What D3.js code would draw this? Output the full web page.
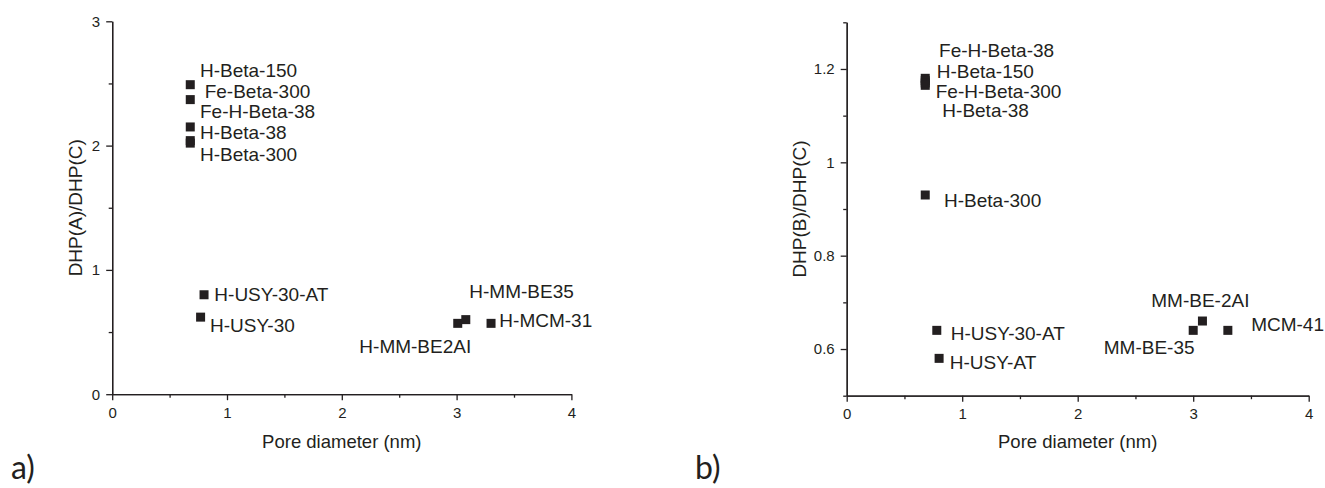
<!DOCTYPE html>
<html>
<head>
<meta charset="utf-8">
<script src="https://cdn.jsdelivr.net/npm/d3@7/dist/d3.min.js"></script>
<style>
  body { margin: 0; background: #fff; }
  text { fill: #231f20; font-family: "Liberation Sans", Arial, sans-serif; }
  .axis path, .axis line { stroke: #231f20; stroke-width: 1.3; }
  .axis text { font-size: 15px; fill: #231f20; font-family: "Liberation Sans", Arial, sans-serif; }
</style>
</head>
<body>
<div id="chart"></div>
<script>
// Panel a) : DHP(A)/DHP(C) against pore diameter
const labelsA = ['H-Beta-150', 'Fe-Beta-300', 'Fe-H-Beta-38', 'H-Beta-38', 'H-Beta-300',
  'H-USY-30-AT', 'H-USY-30', 'H-MM-BE2AI', 'H-MM-BE35', 'H-MCM-31'];
const poreA = [0.68, 0.68, 0.68, 0.68, 0.68, 0.80, 0.77, 3.01, 3.08, 3.30];
const ratioA = [2.49, 2.37, 2.15, 2.04, 2.02, 0.80, 0.62, 0.57, 0.60, 0.57];

// Panel b) : DHP(B)/DHP(C) against pore diameter
const labelsB = ['Fe-H-Beta-38', 'H-Beta-150', 'Fe-H-Beta-300', 'H-Beta-38', 'H-Beta-300',
  'H-USY-30-AT', 'H-USY-AT', 'MM-BE-35', 'MM-BE-2AI', 'MCM-41'];
const poreB = [0.68, 0.68, 0.68, 0.68, 0.68, 0.78, 0.80, 3.00, 3.08, 3.30];
const ratioB = [1.18, 1.175, 1.17, 1.165, 0.93, 0.64, 0.58, 0.64, 0.66, 0.64];

// Tick values
const xMajor = [0, 1, 2, 3, 4], xMinor = [0.5, 1.5, 2.5, 3.5];
const yMajorA = [0, 1, 2, 3], yMinorA = [0.5, 1.5, 2.5];
const yMajorB = [0.6, 0.8, 1.0, 1.2], yMinorB = [0.5, 0.7, 0.9, 1.1, 1.3];

// Label offsets from their square (px), placement only
const offA = [[9.7, -7.7], [14.4, -1.9], [9.7, -8.9], [9.7, -1.2], [9.7, 17.7],
  [10.3, 6.2], [9.4, 15.2], [-98.4, 30], [3.5, -21.3], [8.3, 3.4]];
const offB = [[13.8, -21.6], [11.5, -2.4], [10.5, 15.3], [17.1, 32], [18.8, 11.7],
  [14, 9.6], [10.6, 11], [-89.4, 23.6], [-51.2, -14.4], [23.3, 0.3]];

let
w = 1325, h = 488,
ink = '#231f20',
sq = 9, // square marker size
svg = d3.select('#chart').append('svg').attr('width', w).attr('height', h);

function drawPanel(opt) {
  let
  x = d3.scaleLinear().domain([0, 4]).range(opt.xr),
  y = d3.scaleLinear().domain(opt.yd).range(opt.yr),
  g = svg.append('g');

  // minor ticks first, no labels
  g.append('g').attr('class', 'axis').
  attr('transform', 'translate(0,' + opt.yr[0] + ')').
  call(d3.axisBottom(x).tickValues(xMinor).tickSize(3.5).tickSizeOuter(0).tickFormat(''));
  g.append('g').attr('class', 'axis').
  attr('transform', 'translate(' + opt.xr[0] + ',0)').
  call(d3.axisLeft(y).tickValues(opt.yMinor).tickSize(3.5).tickSizeOuter(0).tickFormat(''));

  // major ticks with labels
  g.append('g').attr('class', 'axis').
  attr('transform', 'translate(0,' + opt.yr[0] + ')').
  call(d3.axisBottom(x).tickValues(xMajor).tickSize(6).tickPadding(7).tickSizeOuter(0).tickFormat(d3.format('d')));
  g.append('g').attr('class', 'axis').
  attr('transform', 'translate(' + opt.xr[0] + ',0)').
  call(d3.axisLeft(y).tickValues(opt.yMajor).tickSize(6).tickPadding(6).tickSizeOuter(0).
  tickFormat(d => String(+d.toFixed(1))));

  // axis titles
  g.append('text').
  attr('x', (opt.xr[0] + opt.xr[1]) / 2).
  attr('y', 448).
  attr('text-anchor', 'middle').
  style('font-size', '18.5px').
  text('Pore diameter (nm)');

  g.append('text').
  attr('transform', 'translate(' + opt.titleX + ',' + (opt.yr[0] + opt.yr[1]) / 2 + ') rotate(-90)').
  attr('text-anchor', 'middle').
  style('font-size', '19px').
  text(opt.yTitle);

  // square markers
  g.selectAll('rect.pt').
  data(opt.labels).
  enter().
  append('rect').
  attr('class', 'pt').
  attr('x', (d, i) => x(opt.pore[i]) - sq / 2).
  attr('y', (d, i) => y(opt.ratio[i]) - sq / 2).
  attr('width', sq).
  attr('height', sq).
  attr('fill', ink);

  // sample names
  g.selectAll('text.lbl').
  data(opt.labels).
  enter().
  append('text').
  attr('class', 'lbl').
  attr('x', (d, i) => x(opt.pore[i]) + opt.off[i][0]).
  attr('y', (d, i) => y(opt.ratio[i]) + opt.off[i][1]).
  style('font-size', '19px').
  text(d => d);

  // panel letter
  svg.append('text').
  attr('x', opt.letterX).
  attr('y', 479).
  style('font-family', 'Lato, "Open Sans", sans-serif').
  style('font-size', '32px').
  text(opt.letter);
}

drawPanel({
  xr: [112.2, 571.4], yr: [394.2, 21.3], yd: [0, 3],
  yMajor: yMajorA, yMinor: yMinorA,
  labels: labelsA, pore: poreA, ratio: ratioA, off: offA,
  yTitle: 'DHP(A)/DHP(C)', titleX: 82, letter: 'a)', letterX: 11
});

drawPanel({
  xr: [846.7, 1308.7], yr: [395.7, 22.3], yd: [0.5, 1.3],
  yMajor: yMajorB, yMinor: yMinorB,
  labels: labelsB, pore: poreB, ratio: ratioB, off: offB,
  yTitle: 'DHP(B)/DHP(C)', titleX: 806, letter: 'b)', letterX: 695
});
</script>
</body>
</html>
